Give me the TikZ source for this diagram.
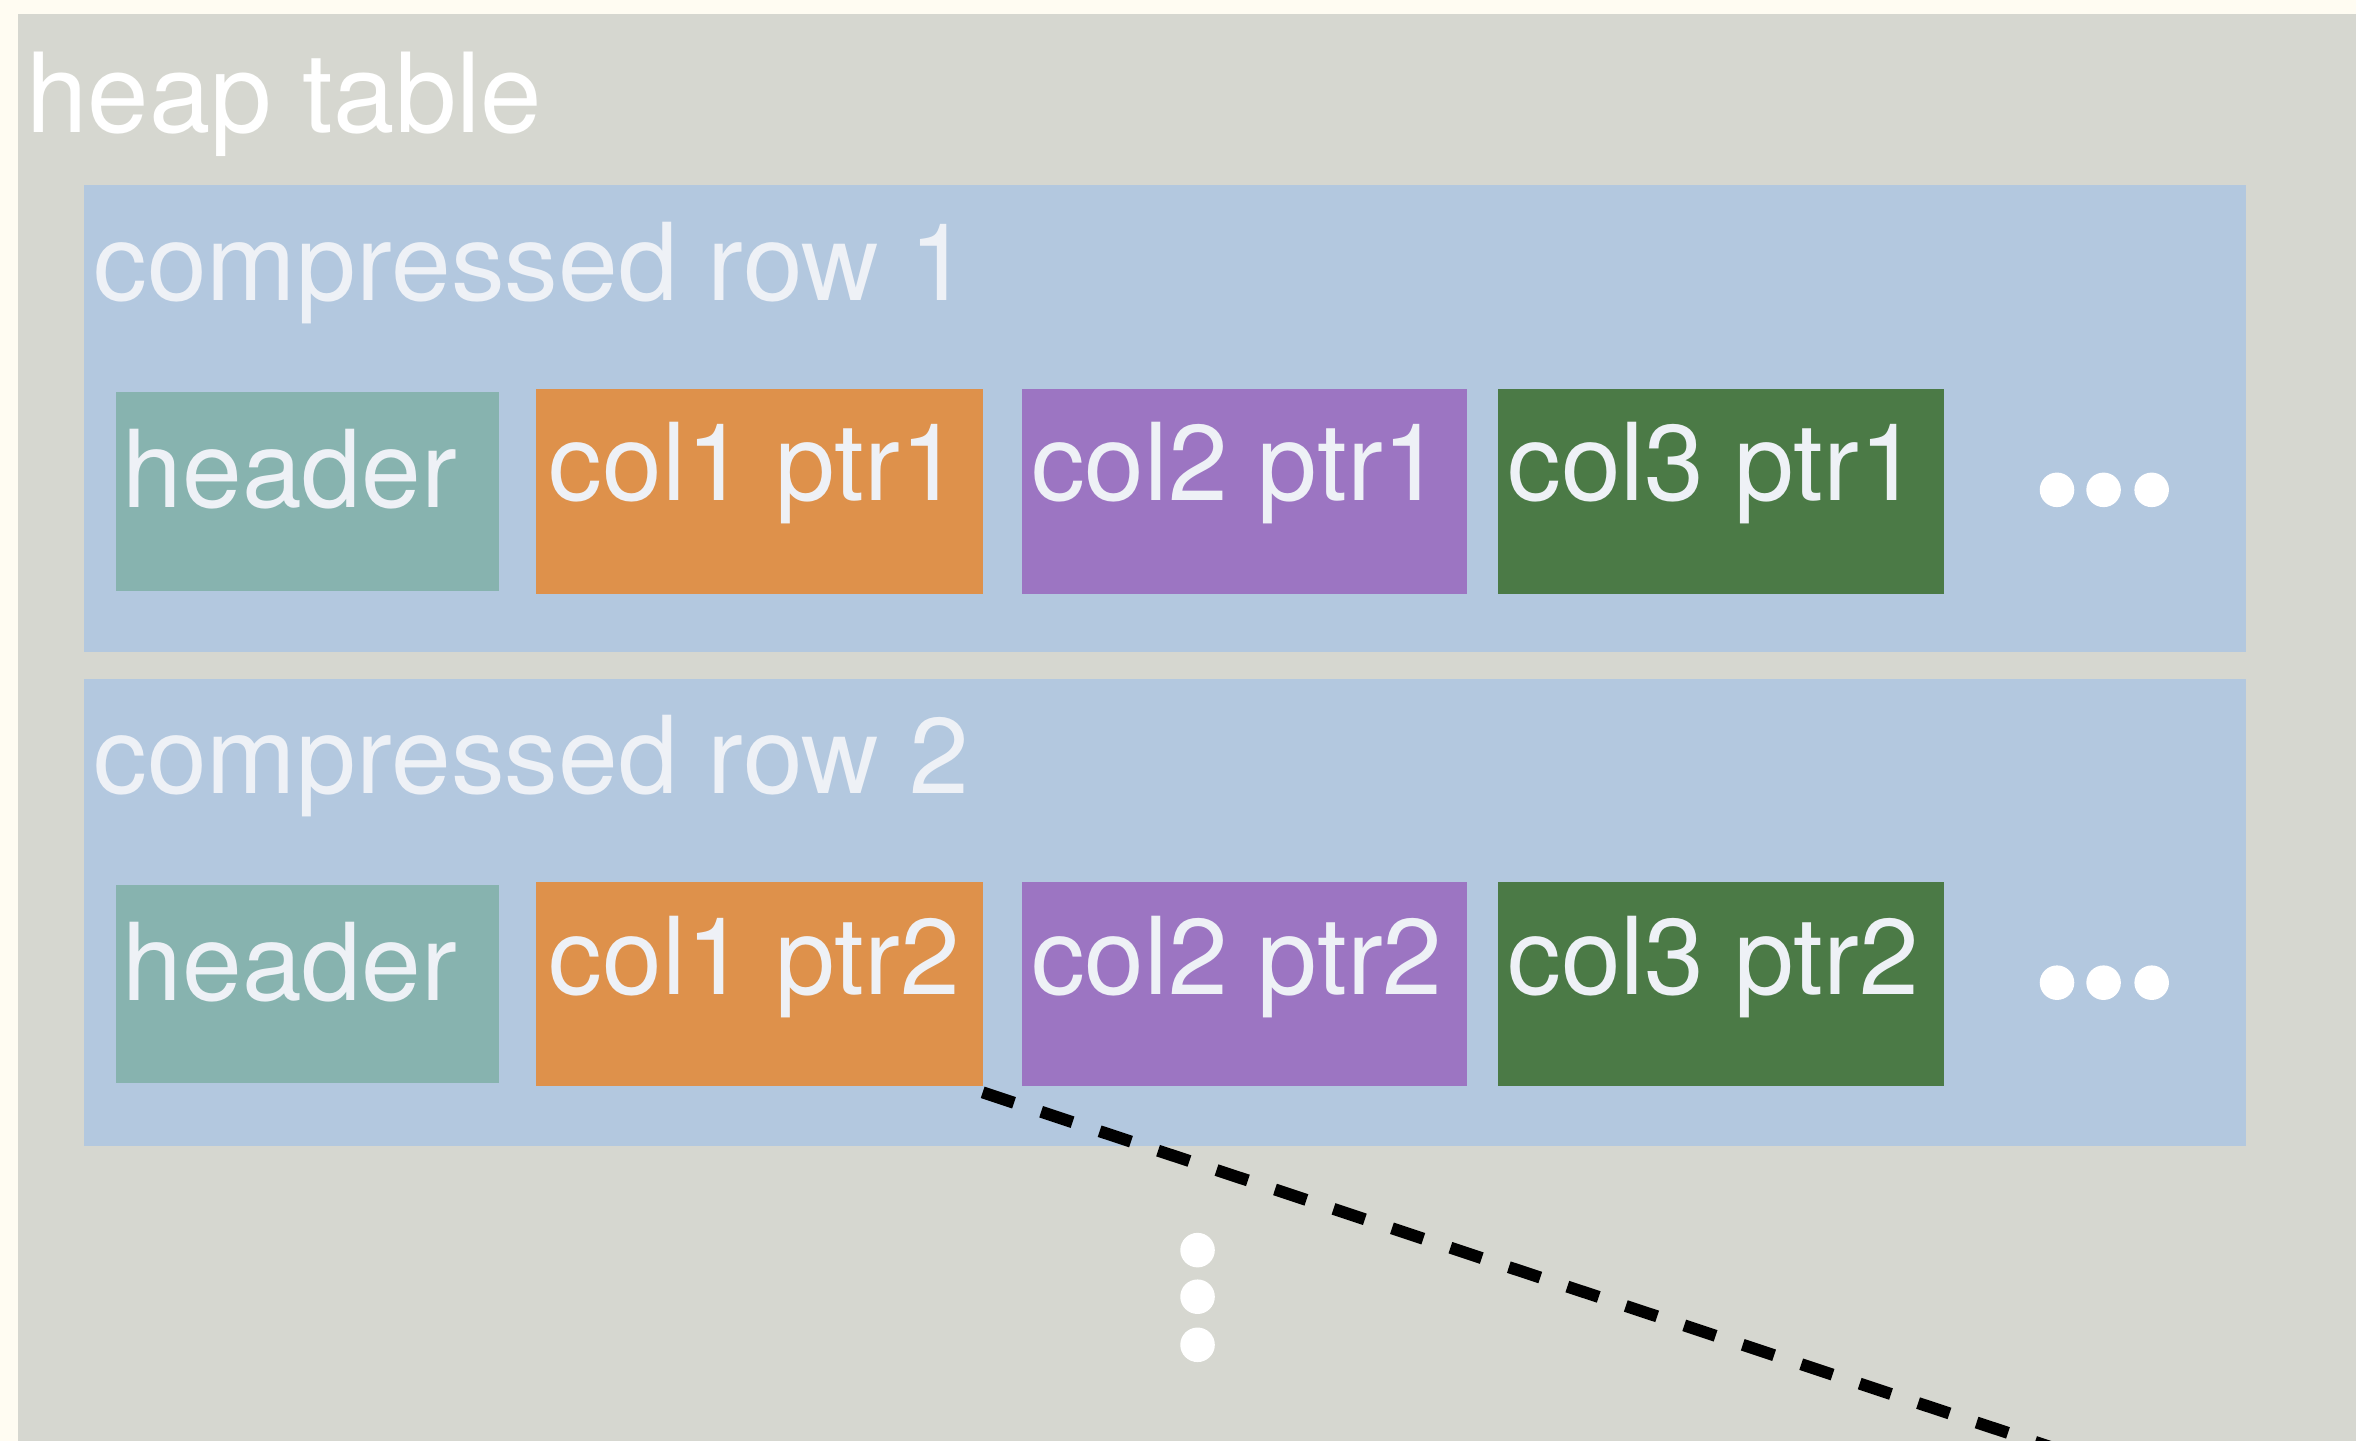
\documentclass[tikz,border=0pt]{standalone}
\usepackage{fontspec}
\setmainfont{TeX Gyre Heros}
\definecolor{paper}{HTML}{FFFCF2}
\definecolor{heapgray}{HTML}{D6D7D0}
\definecolor{rowblue}{HTML}{B3C8DF}
\definecolor{hdrteal}{HTML}{87B3AF}
\definecolor{colorange}{HTML}{DE914B}
\definecolor{colpurple}{HTML}{9C75C2}
\definecolor{colgreen}{HTML}{4B7A46}
\definecolor{labelwhite}{HTML}{EEF1F6}
\tikzset{
  area/.style={draw=none, inner sep=0pt, outer sep=0pt, anchor=north west},
  field/.style={area, minimum width=297pt, minimum height=136pt},
  hdrfield/.style={area, fill=hdrteal, minimum width=255pt, minimum height=132pt},
  lbl/.style={inner sep=0pt, anchor=base west, text=labelwhite,
    font=\fontsize{71.5}{86}\selectfont},
  dot/.style={circle, fill=white, draw=none, inner sep=0pt, minimum size=23pt},
  pointer/.style={line width=8pt, dash pattern=on 22pt off 19pt}
}
\begin{document}
\begin{tikzpicture}[x=1pt,y=-1pt]
\useasboundingbox (0,0) rectangle (1568,959);
\clip (0,0) rectangle (1568,959);
\fill[paper] (0,0) rectangle (1568,959);

% table and row containers
\node[area, fill=heapgray, minimum width=1600pt, minimum height=1000pt] (heap) at (12,9) {};
\node[lbl, text=white, font=\fontsize{73.5}{88}\selectfont] (heaplbl) at (17.5,88) {heap table};
\node[area, fill=rowblue, minimum width=1439pt, minimum height=311pt] (row1) at (56,123) {};
\node[area, fill=rowblue, minimum width=1439pt, minimum height=311pt] (row2) at (56,452) {};
\node[lbl] (row1lbl) at (62,200) {compressed row 1};
\node[lbl] (row2lbl) at (62,528) {compressed row 2};

% row 1 fields
\node[hdrfield] (h1) at (77,261) {};
\node[field, fill=colorange] (c11) at (357,259) {};
\node[field, fill=colpurple, minimum width=296pt] (c21) at (680,259) {};
\node[field, fill=colgreen] (c31) at (997,259) {};
\node[lbl] (h1lbl) at (81.5,338) {header};
\node[lbl] (c11lbl) at (365,333) {col1 ptr1};
\node[lbl] (c21lbl) at (686,333) {col2 ptr1};
\node[lbl] (c31lbl) at (1003,333) {col3 ptr1};
\node[dot] (d11) at (1369,326) {};
\node[dot] (d12) at (1400,326) {};
\node[dot] (d13) at (1432,326) {};

% row 2 fields
\node[hdrfield] (h2) at (77,589) {};
\node[field, fill=colorange] (c12) at (357,587) {};
\node[field, fill=colpurple, minimum width=296pt] (c22) at (680,587) {};
\node[field, fill=colgreen] (c32) at (997,587) {};
\node[lbl] (h2lbl) at (81.5,666) {header};
\node[lbl] (c12lbl) at (365,662) {col1 ptr2};
\node[lbl] (c22lbl) at (686,662) {col2 ptr2};
\node[lbl] (c32lbl) at (1003,662) {col3 ptr2};
\node[dot] (d21) at (1369,654) {};
\node[dot] (d22) at (1400,654) {};
\node[dot] (d23) at (1432,654) {};

% more rows follow
\node[dot] (v1) at (797,832) {};
\node[dot] (v2) at (797,863) {};
\node[dot] (v3) at (797,895) {};

% pointer leaving the first column of row 2
\coordinate (tail) at (1476,1000);
\draw[pointer] ([yshift=-4pt]c12.south east) -- (tail);
\end{tikzpicture}
\end{document}
